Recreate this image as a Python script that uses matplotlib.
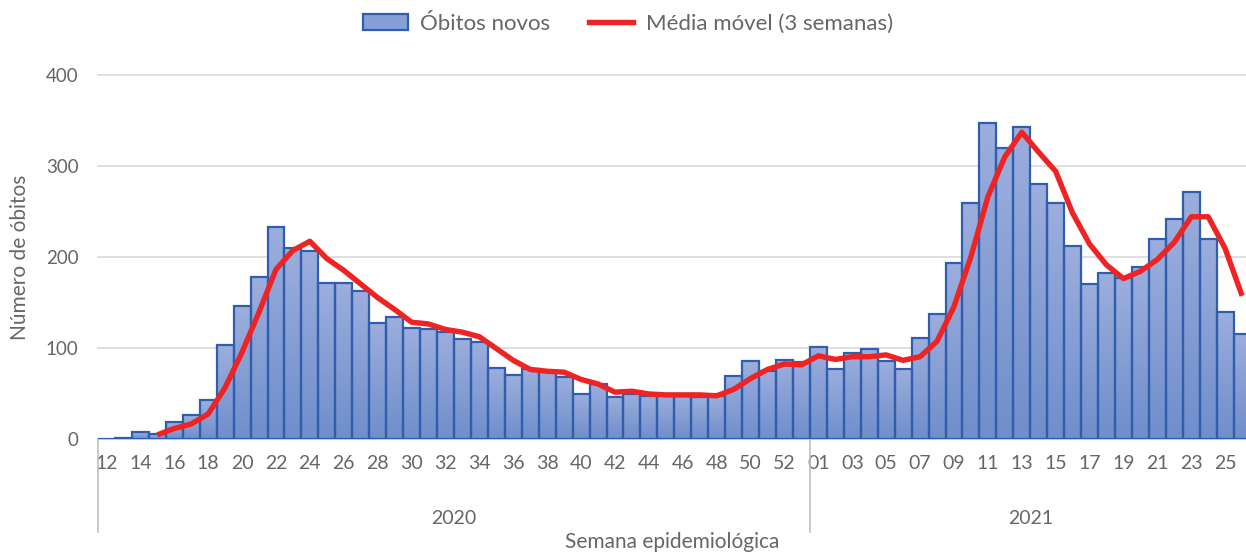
import numpy as np
import matplotlib
matplotlib.use("Agg")
import matplotlib.pyplot as plt
from matplotlib.patches import Patch
from matplotlib.lines import Line2D
from matplotlib.colors import LinearSegmentedColormap
import matplotlib.transforms as mtransforms

plt.rcParams['font.family'] = ['Lato', 'DejaVu Sans']

# ---- data ----
semanas_2020 = [str(w) for w in range(12, 54)]
semanas_2021 = ["%02d" % w for w in range(1, 27)]
semanas = semanas_2020 + semanas_2021

obitos_2020 = [0, 1, 7, 5, 18, 26, 42, 103, 146, 178, 233, 210, 206, 171, 171,
               162, 127, 134, 122, 120, 117, 110, 106, 78, 70, 77, 74, 68, 49,
               60, 46, 49, 47, 47, 47, 46, 47, 69, 85, 74, 86, 84]
obitos_2021 = [101, 76, 94, 98, 85, 77, 111, 137, 193, 259, 347, 320, 343, 280,
               259, 212, 170, 182, 177, 189, 220, 242, 271, 220, 139, 115]
obitos = obitos_2020 + obitos_2021

media_2020 = [np.nan, np.nan, np.nan, 4, 11, 16, 27, 56, 95, 139, 186, 207, 217,
              198, 185, 170, 155, 142, 128, 126, 120, 117, 112, 99, 86, 76, 74,
              73, 65, 60, 51, 52, 49, 48, 48, 48, 47, 54, 66, 76, 82, 81]
media_2021 = [91, 87, 90, 90, 92, 86, 90, 107, 145, 200, 266, 310, 337, 315,
              294, 248, 214, 191, 176, 184, 197, 216, 244, 244, 209, 157]
media = media_2020 + media_2021

anos = ["2020", "2021"]
yticks = [0, 100, 200, 300, 400]

# ---- figure ----
W, H = 1246, 553
fig = plt.figure(figsize=(W / 100, H / 100), dpi=100)
ax_left, ax_right, ax_top, ax_bottom = 98, 1246, 75, 438.5
ax = fig.add_axes([ax_left / W, 1 - ax_bottom / H, (ax_right - ax_left) / W,
                   (ax_bottom - ax_top) / H])

n = len(semanas)
x = np.arange(n)
step = 16.95

text_col = '#666666'
grid_col = '#D9D9D9'
edge_col = '#2F5EAF'
red = '#EE2424'

for yv in yticks[1:]:
    ax.axhline(yv, color=grid_col, lw=1.2, zorder=1, clip_on=False)
ax.axhline(0, color='#BFBFBF', lw=1.2, zorder=1, clip_on=False)

cmap = LinearSegmentedColormap.from_list('g', ['#6F8ECB', '#9CAEDD'])
grad = np.linspace(0, 1, 256).reshape(-1, 1)
bars = ax.bar(x, obitos, width=1.0, facecolor='none', edgecolor=edge_col,
              linewidth=1.6, zorder=3)
for b in bars:
    h = b.get_height()
    if h <= 0:
        continue
    ax.imshow(grad, extent=[b.get_x(), b.get_x() + b.get_width(), 0, h],
              aspect='auto', cmap=cmap, origin='lower', zorder=2,
              interpolation='bilinear')

ax.plot(x, media, color=red, lw=3.9, zorder=4, solid_joinstyle='round',
        solid_capstyle='butt')

ax.set_xlim(-0.5, -0.5 + (ax_right - ax_left) / step)
ax.set_ylim(0, 400)
ax.set_aspect('auto')

for s in ax.spines.values():
    s.set_visible(False)

ax.set_yticks(yticks)
ax.set_yticklabels([str(v) for v in yticks])
ax.tick_params(axis='y', length=0, pad=14, labelsize=13.5, labelcolor=text_col)
ax.set_xticks(x[::2])
ax.set_xticklabels(semanas[::2])
ax.tick_params(axis='x', length=0, pad=12, labelsize=14, labelcolor=text_col)

trans = mtransforms.blended_transform_factory(ax.transData, ax.transAxes)
ax_h = ax_bottom - ax_top
line_bottom = -(532 - ax_bottom) / ax_h
n20 = len(semanas_2020)
for xd in [-0.5, n20 - 0.5]:
    ax.plot([xd, xd], [0, line_bottom], transform=trans, color='#BFBFBF',
            lw=1.2, clip_on=False)

year_y = -(519 - ax_bottom) / ax_h
ax.text((-0.5 + n20 - 0.5) / 2, year_y, anos[0], transform=trans, ha='center',
        va='center', fontsize=14, color=text_col)
ax.text((n20 - 0.5 + n - 0.5) / 2, year_y, anos[1], transform=trans, ha='center',
        va='center', fontsize=14, color=text_col)

fig.text(672 / W, 1 - 542 / H, 'Semana epidemiológica', ha='center', va='center',
         fontsize=15, color=text_col)
fig.text(20 / W, 1 - 257 / H, 'Número de óbitos', ha='center', va='center',
         rotation=90, fontsize=15, color=text_col)

handles = [Patch(facecolor='#869FD6', edgecolor=edge_col, linewidth=1.6),
           Line2D([], [], color=red, lw=3.9)]
fig.legend(handles, ['Óbitos novos', 'Média móvel (3 semanas)'], loc='center',
           bbox_to_anchor=(628 / W, 1 - 24 / H), ncol=2, frameon=False,
           fontsize=16, handlelength=2.0, handletextpad=0.55,
           columnspacing=1.75, labelcolor=text_col)

fig.savefig('out.png', dpi=100)
